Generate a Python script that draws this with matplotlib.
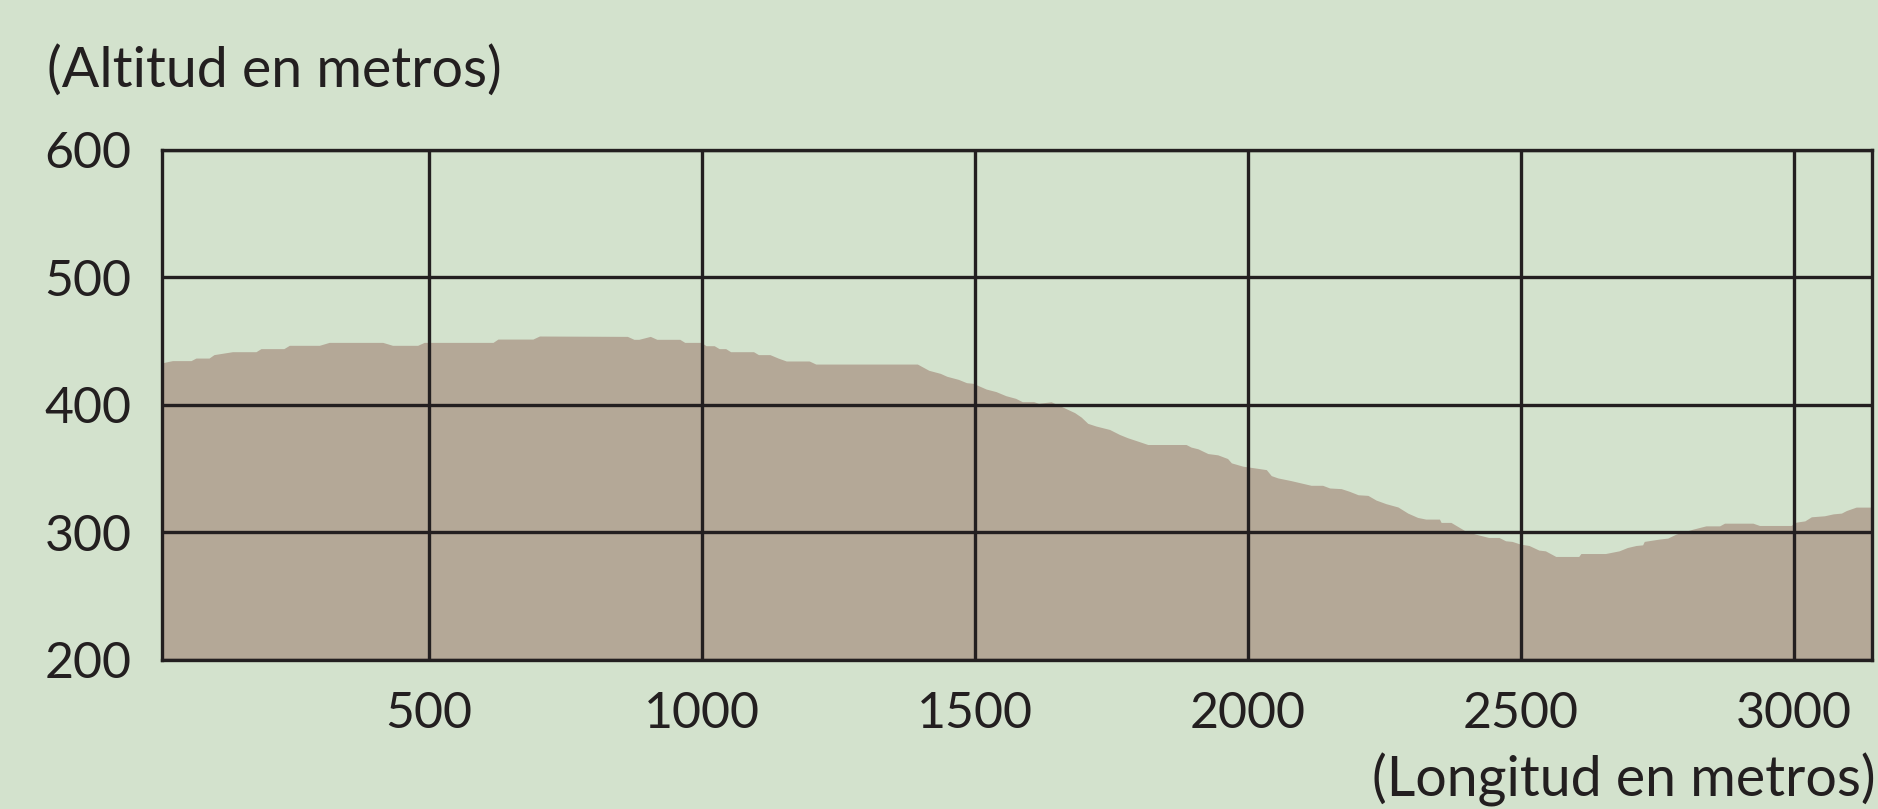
import matplotlib.pyplot as plt

distancia = [0, 31, 65, 74, 98, 107, 141, 184, 193, 235, 245, 300, 318, 416, 434, 480, 492, 618, 627, 691,
             703, 864, 876, 885, 906, 918, 960, 969, 999, 1008, 1023, 1032, 1044, 1053, 1095, 1104, 1125, 1140,
             1155, 1197, 1209, 1395, 1416, 1437, 1449, 1470, 1485, 1497, 1521, 1539, 1557, 1575, 1587, 1608,
             1617, 1640, 1661, 1683, 1695, 1707, 1722, 1747, 1765, 1780, 1799, 1817, 1887, 1896, 1909, 1927,
             1945, 1963, 1970, 1991, 2012, 2034, 2043, 2055, 2079, 2098, 2116, 2137, 2150, 2171, 2186, 2202,
             2220, 2235, 2253, 2275, 2293, 2311, 2326, 2351, 2354, 2372, 2398, 2417, 2441, 2460, 2472, 2484,
             2499, 2515, 2533, 2545, 2564, 2606, 2610, 2655, 2680, 2695, 2711, 2723, 2726, 2753, 2769, 2784,
             2815, 2839, 2864, 2873, 2925, 2937, 2995, 3004, 3020, 3032, 3056, 3072, 3087, 3096, 3114, 3150]
altitud = [432, 434.8, 434.8, 436.8, 436.8, 439.5, 441.8, 441.8, 444.2, 444.2, 446.8, 446.8, 449.1, 449.1,
           446.8, 446.8, 449.1, 449.1, 451.7, 451.7,
           454.1, 453.8, 451.5, 451.5, 453.8, 451.5, 451.5, 449.1, 449.1, 446.5, 446.5, 444.2, 444.2, 441.8,
           441.8, 439.5, 439.5, 436.8,
           434.5, 434.5, 432.1, 432.1, 427.2, 424.8, 422.5, 420.1, 417.5, 417, 412.5, 410.5, 407.3, 405.2,
           402.6, 402.6,
           401.3, 402.5, 398.4, 394, 390.5, 385.6, 383.5, 380.8, 376.9, 374.3, 371.6, 369, 369, 367, 365.6,
           361.9,
           360.9, 358, 354.6, 352, 350.7, 349.3, 344.6, 342.8, 340.7, 338.8, 337, 337, 334.9, 334.4, 332.3,
           329.6,
           329.1, 325.4, 322.6, 320, 315.2, 311.8, 310.5, 310.5, 307.9, 307.9, 301.3, 298.7, 296.1, 296.1,
           293.5, 293,
           290.9, 289.8, 286.2, 285.6, 281.2, 281.2, 283.5, 283.5, 285.6, 288.2, 289.8, 290.3, 293, 294.8,
           295.6, 298.7,
           302.6, 305.2, 305.2, 307.3, 307.3, 305.5, 305.5, 308.1, 309.1, 312.3, 313.1, 314.6, 315.2, 317.2,
           319.9, 319.9]

xticks = [500, 1000, 1500, 2000, 2500, 3000]
yticks = [200, 300, 400, 500, 600]

fondo = '#D3E2CD'
tierra = '#B4A897'
oscuro = '#231F20'

plt.rcParams['font.family'] = ['Lato', 'DejaVu Sans']

fig = plt.figure(figsize=(18.78, 8.09), dpi=100, facecolor=fondo)
ax = fig.add_axes([0.0863, 0.1842, 0.9105, 0.6304])
ax.set_facecolor(fondo)

ax.fill_between(distancia, 200, altitud, color=tierra, linewidth=0, zorder=1)

ax.set_xlim(12, 3143)
ax.set_ylim(200, 600)
ax.set_xticks(xticks)
ax.set_yticks(yticks)
ax.tick_params(length=0, labelsize=36, colors=oscuro)
ax.tick_params(axis='x', pad=22)
ax.tick_params(axis='y', pad=22)
ax.grid(True, color=oscuro, linewidth=2.4, zorder=3)
ax.set_axisbelow(False)
for s in ax.spines.values():
    s.set_color(oscuro)
    s.set_linewidth(2.4)
    s.set_zorder(4)

fig.text(0.025, 0.913, '(Altitud en metros)', fontsize=40, color=oscuro, va='center', ha='left')
fig.text(0.999, 0.036, '(Longitud en metros)', fontsize=40, color=oscuro, va='center', ha='right')

fig.savefig('out.png', dpi=100, facecolor=fondo)
